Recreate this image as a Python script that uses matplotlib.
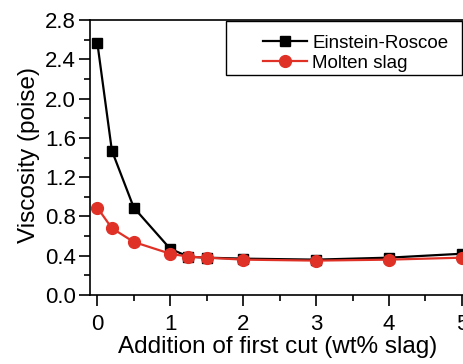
import matplotlib
matplotlib.use("Agg")
import matplotlib.pyplot as plt
from matplotlib.patches import Rectangle
from matplotlib.ticker import MultipleLocator

plt.rcParams['font.family'] = ['Liberation Sans', 'DejaVu Sans']

# slag addition (wt%)
x = [0, 0.2, 0.5, 1.0, 1.25, 1.5, 2, 3, 4, 5]
einstein_roscoe = [2.57, 1.47, 0.89, 0.47, 0.39, 0.38, 0.37, 0.36, 0.38, 0.42]
molten_slag = [0.89, 0.68, 0.54, 0.42, 0.39, 0.38, 0.36, 0.35, 0.36, 0.38]

fig = plt.figure(figsize=(4.63, 3.64), dpi=100)
ax = fig.add_axes([0.1944, 0.1896, 0.819, 0.7554])

ax.plot(x, einstein_roscoe, color='black', lw=1.6, marker='s', ms=7,
        label='Einstein-Roscoe', zorder=3)
ax.plot(x, molten_slag, color='#e03127', lw=1.6, marker='o', ms=8.5,
        label='Molten slag', zorder=4)

ax.set_xlim(-0.1, 5.1)
ax.set_ylim(0, 2.8)
ax.xaxis.set_major_locator(MultipleLocator(1))
ax.xaxis.set_minor_locator(MultipleLocator(0.5))
ax.yaxis.set_major_locator(MultipleLocator(0.4))
ax.yaxis.set_minor_locator(MultipleLocator(0.2))
ax.tick_params(which='major', length=8, width=1.2, labelsize=16, direction='out')
ax.tick_params(which='minor', length=4.5, width=1.2, direction='out')
ax.tick_params(axis='x', pad=6)
ax.tick_params(axis='y', pad=2)
for s in ax.spines.values():
    s.set_linewidth(1.2)

ax.set_xlabel('Addition of first cut (wt% slag)', fontsize=17.5)
ax.set_ylabel('Viscosity (poise)', fontsize=17.5)
ax.xaxis.set_label_coords(0.496, -0.149)
ax.yaxis.set_label_coords(-0.133, 0.51)

# legend frame drawn separately (wide left margin in the original)
ax.add_patch(Rectangle((0.3586, 0.8), 0.6224, 0.196, transform=ax.transAxes,
                       facecolor='white', edgecolor='black', lw=1.0,
                       zorder=5, clip_on=False))
leg = ax.legend(loc='center left', bbox_to_anchor=(0.456, 0.88), fontsize=13.5,
                frameon=False, handlelength=2.35, borderpad=0,
                labelspacing=0.15, handletextpad=0.27, borderaxespad=0)
leg.set_zorder(6)

fig.savefig('out.png', dpi=100)
